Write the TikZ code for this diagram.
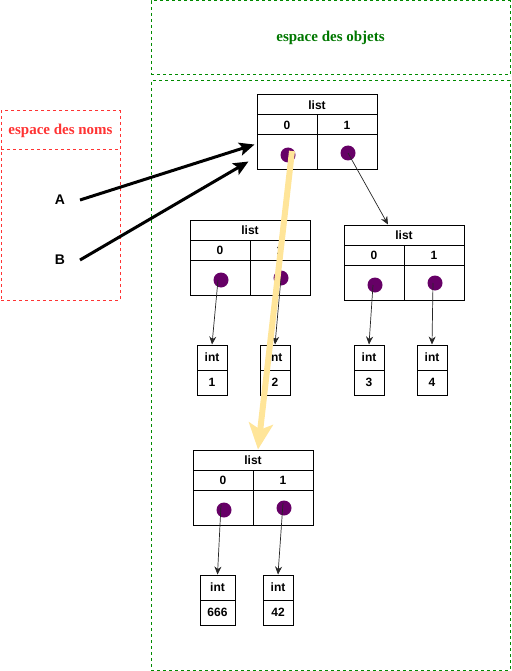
\documentclass[tikz,border=0pt]{standalone}
\usepackage{fontspec}
\setmainfont{Liberation Serif}
\setsansfont{Liberation Sans}
\usetikzlibrary{arrows.meta,calc}
\definecolor{objgreen}{HTML}{007700}
\definecolor{dashgreen}{HTML}{008A00}
\definecolor{nomred}{HTML}{FF3333}
\definecolor{dotpurple}{HTML}{660066}
\definecolor{hilite}{HTML}{FFE599}
\tikzset{
  cellbox/.style={draw=black, line width=1pt, inner sep=0pt, font=\sffamily\bfseries\fontsize{12}{14}\selectfont},
  refdot/.style={circle, fill=dotpurple, draw=none, minimum size=15pt, inner sep=0pt},
  ptr/.style={-{Stealth[length=8pt,width=7pt]}, line width=0.7pt, draw=black!85},
  bigptr/.style={-{Stealth[length=15pt,width=13pt,inset=3pt]}, line width=3pt},
  hiptr/.style={-{Stealth[length=26pt,width=24pt,inset=6pt]}, line width=6pt, draw=hilite},
  zone/.style={draw, dashed, dash pattern=on 3pt off 3pt, line width=1pt},
  lbl/.style={font=\sffamily\bfseries\fontsize{14}{16}\selectfont},
}
\newcommand\drawlist[3]{%
  \node[cellbox, minimum width=120pt, minimum height=20pt] (#1t) at (#2+60,#3+10) {list};
  \node[cellbox, minimum width=60pt, minimum height=20pt] (#1i0) at (#2+30,#3+30) {0};
  \node[cellbox, minimum width=60pt, minimum height=20pt] (#1i1) at (#2+90,#3+30) {1};
  \node[cellbox, minimum width=60pt, minimum height=35pt] (#1c0) at (#2+30,#3+57.5) {};
  \node[cellbox, minimum width=60pt, minimum height=35pt] (#1c1) at (#2+90,#3+57.5) {};
  \node[refdot] (#1d0) at (#2+31,#3+60) {};
  \node[refdot] (#1d1) at (#2+91,#3+58) {};
}
\newcommand\drawint[5]{%
  \node[cellbox, minimum width=#5pt, minimum height=25pt] (#1t) at (#2+#5/2,#3+12.5) {int};
  \node[cellbox, minimum width=#5pt, minimum height=25pt] (#1v) at (#2+#5/2,#3+37.5) {#4};
}
\begin{document}
\begin{tikzpicture}[x=1pt,y=-1pt]
\useasboundingbox (0,0) rectangle (511,671);
% zones
\node[zone, draw=dashgreen, minimum width=359pt, minimum height=74pt, inner sep=0pt,
      text=objgreen, font=\rmfamily\bfseries\fontsize{15}{17}\selectfont] (objhead) at (330.5,38) {espace des objets};
\node[zone, draw=dashgreen, minimum width=359pt, minimum height=589pt, inner sep=0pt] (objbody) at (330.5,375.5) {};
\node[zone, draw=nomred, minimum width=119pt, minimum height=189pt, inner sep=0pt] (nombody) at (60.5,205.5) {};
\node[zone, draw=nomred, minimum width=119pt, minimum height=39pt, inner sep=0pt,
      text=nomred, font=\rmfamily\bfseries\fontsize{15}{17}\selectfont] (nomhead) at (60.5,130.5) {espace des noms};
% names
\node[lbl] (A) at (60,200) {A};
\node[lbl] (B) at (60,260) {B};
% lists
\drawlist{L1}{257}{95}
\drawlist{L2}{190}{220}
\drawlist{L3}{344}{225}
\drawlist{L4}{193}{450}
% ints
\drawint{I1}{197}{345}{1}{30}
\drawint{I2}{260}{345}{2}{30}
\drawint{I3}{354}{345}{3}{30}
\drawint{I4}{417}{345}{4}{30}
\drawint{I5}{200}{575}{666}{35}
\drawint{I6}{263}{575}{42}{30}
% pointers
\draw[ptr] (L1d1.center) -- ([xshift=-16pt]L3t.north);
\draw[ptr] ([xshift=-3pt]L2d0.center) -- (I1t.north);
\draw[ptr] (L2d1.center) -- (I2t.north);
\draw[ptr] ([xshift=-2pt]L3d0.center) -- (I3t.north);
\draw[ptr] ([xshift=-2pt]L3d1.center) -- (I4t.north);
\draw[ptr] ([xshift=-3pt,yshift=5pt]L4d0.center) -- (I5t.north);
\draw[ptr] ([xshift=-1pt,yshift=5pt]L4d1.center) -- (I6t.north);
% names to object
\draw[bigptr] ([xshift=20pt]A.center) -- ([xshift=-2pt,yshift=8pt]L1c0.west);
\draw[bigptr] ([xshift=20pt]B.center) -- ([xshift=-8pt,yshift=-9pt]L1c0.west);
% highlight
\draw[hiptr] ([xshift=4pt,yshift=4pt]L1d0.center) -- ([xshift=5pt]L4t.north);
\end{tikzpicture}
\end{document}
